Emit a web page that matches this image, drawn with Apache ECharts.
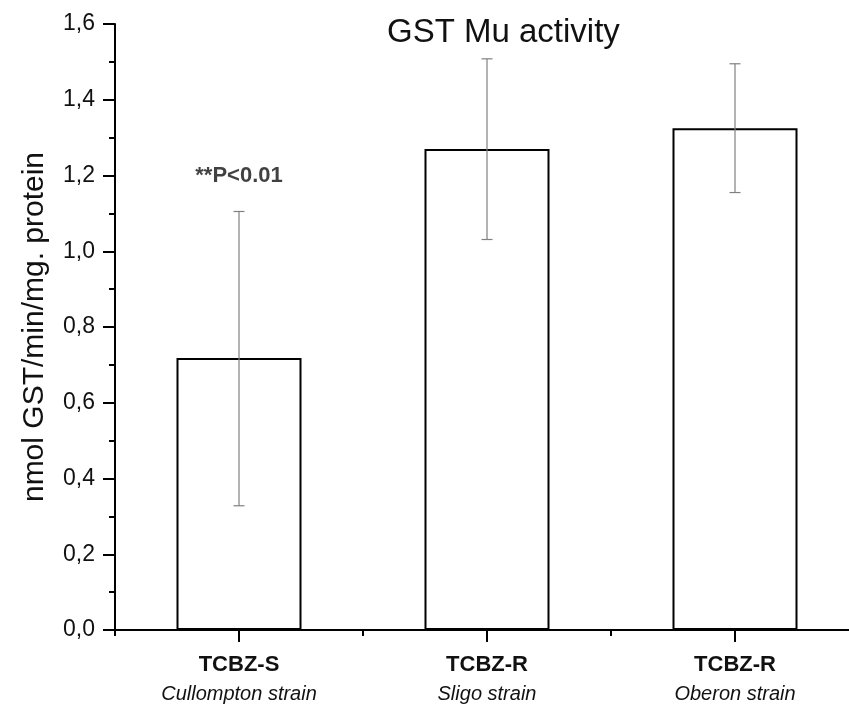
<!DOCTYPE html>
<html>
<head>
<meta charset="utf-8">
<script src="https://cdn.jsdelivr.net/npm/echarts@6/dist/echarts.min.js"></script>
<style>
html,body{margin:0;padding:0;background:#fff;}
#chart{width:849px;height:708px;}
</style>
</head>
<body>
<div id="chart"></div>
<script>
var categories = ['TCBZ-S', 'TCBZ-R', 'TCBZ-R'];
var strains = ['Cullompton strain', 'Sligo strain', 'Oberon strain'];
var means = [0.718, 1.270, 1.325];
var errLow = [0.328, 1.031, 1.155];
var errHigh = [1.105, 1.508, 1.495];
var annotations = ['**P<0.01'];
var annotationY = [1.2];

var FONT = 'Liberation Sans, Arial, sans-serif';
var chart = echarts.init(document.getElementById('chart'), null, {renderer: 'canvas'});

var errData = categories.map(function (c, i) { return [i, errLow[i], errHigh[i]]; });
var annData = annotations.map(function (a, i) { return [i, annotationY[i], a]; });

var option = {
  backgroundColor: '#ffffff',
  animation: false,
  title: {
    text: 'GST Mu activity',
    left: 387,
    top: 16,
    padding: 0,
    textStyle: {fontFamily: FONT, fontSize: 33, fontWeight: 'normal', color: '#111'}
  },
  grid: {left: 115, top: 24, width: 744, height: 606, outerBoundsMode: 'none', containLabel: false},
  xAxis: [{
    type: 'category',
    data: categories,
    position: 'bottom',
    boundaryGap: true,
    axisLine: {lineStyle: {color: '#000', width: 2}},
    axisTick: {show: true, length: 6, inside: false, lineStyle: {color: '#000', width: 2}},
    axisLabel: {
      margin: 20,
      interval: 0,
      formatter: function (v, i) { return '{a|' + v + '}\n{b|' + strains[i] + '}'; },
      rich: {
        a: {fontFamily: FONT, fontSize: 22, fontWeight: 'bold', color: '#111', lineHeight: 29},
        b: {fontFamily: FONT, fontSize: 20, fontStyle: 'italic', color: '#111', lineHeight: 30}
      }
    },
    splitLine: {show: false}
  }, {
    type: 'category',
    data: categories,
    position: 'bottom',
    boundaryGap: true,
    axisLine: {show: false},
    axisTick: {show: true, alignWithLabel: true, interval: 0, length: 12, inside: false, lineStyle: {color: '#000', width: 2}},
    axisLabel: {show: false, interval: 0},
    splitLine: {show: false}
  }],
  yAxis: {
    type: 'value',
    min: 0,
    max: 1.6,
    interval: 0.2,
    name: 'nmol GST/min/mg. protein',
    nameLocation: 'middle',
    nameGap: 65,
    nameTextStyle: {fontFamily: FONT, fontSize: 30, color: '#111'},
    axisLine: {show: true, lineStyle: {color: '#000', width: 2}},
    axisTick: {show: true, length: 12, inside: false, lineStyle: {color: '#000', width: 2}},
    minorTick: {show: true, splitNumber: 2, length: 6, lineStyle: {color: '#000', width: 2}},
    axisLabel: {
      margin: 20,
      fontFamily: FONT, fontSize: 23, color: '#111',
      formatter: function (v) { return v.toFixed(1).replace('.', ','); }
    },
    splitLine: {show: false}
  },
  series: [{
    type: 'bar',
    data: means,
    barWidth: 125,
    itemStyle: {color: '#ffffff', borderColor: '#000', borderWidth: 2}
  }, {
    type: 'custom',
    data: errData,
    z: 5,
    renderItem: function (params, api) {
      var i = api.value(0);
      var lo = api.coord([i, api.value(1)]);
      var hi = api.coord([i, api.value(2)]);
      var cap = 5.5;
      var style = {stroke: '#808080', lineWidth: 1.2, fill: null};
      return {
        type: 'group',
        children: [
          {type: 'line', shape: {x1: lo[0], y1: lo[1], x2: hi[0], y2: hi[1]}, style: style},
          {type: 'line', shape: {x1: hi[0] - cap, y1: hi[1], x2: hi[0] + cap, y2: hi[1]}, style: style},
          {type: 'line', shape: {x1: lo[0] - cap, y1: lo[1], x2: lo[0] + cap, y2: lo[1]}, style: style}
        ]
      };
    }
  }, {
    type: 'scatter',
    data: annData,
    symbolSize: 0,
    z: 6,
    label: {
      show: true,
      position: 'inside',
      formatter: function (p) { return p.data[2]; },
      fontFamily: FONT, fontSize: 22, fontWeight: 'bold', color: '#111'
    }
  }]
};
chart.setOption(option);
</script>
</body>
</html>
